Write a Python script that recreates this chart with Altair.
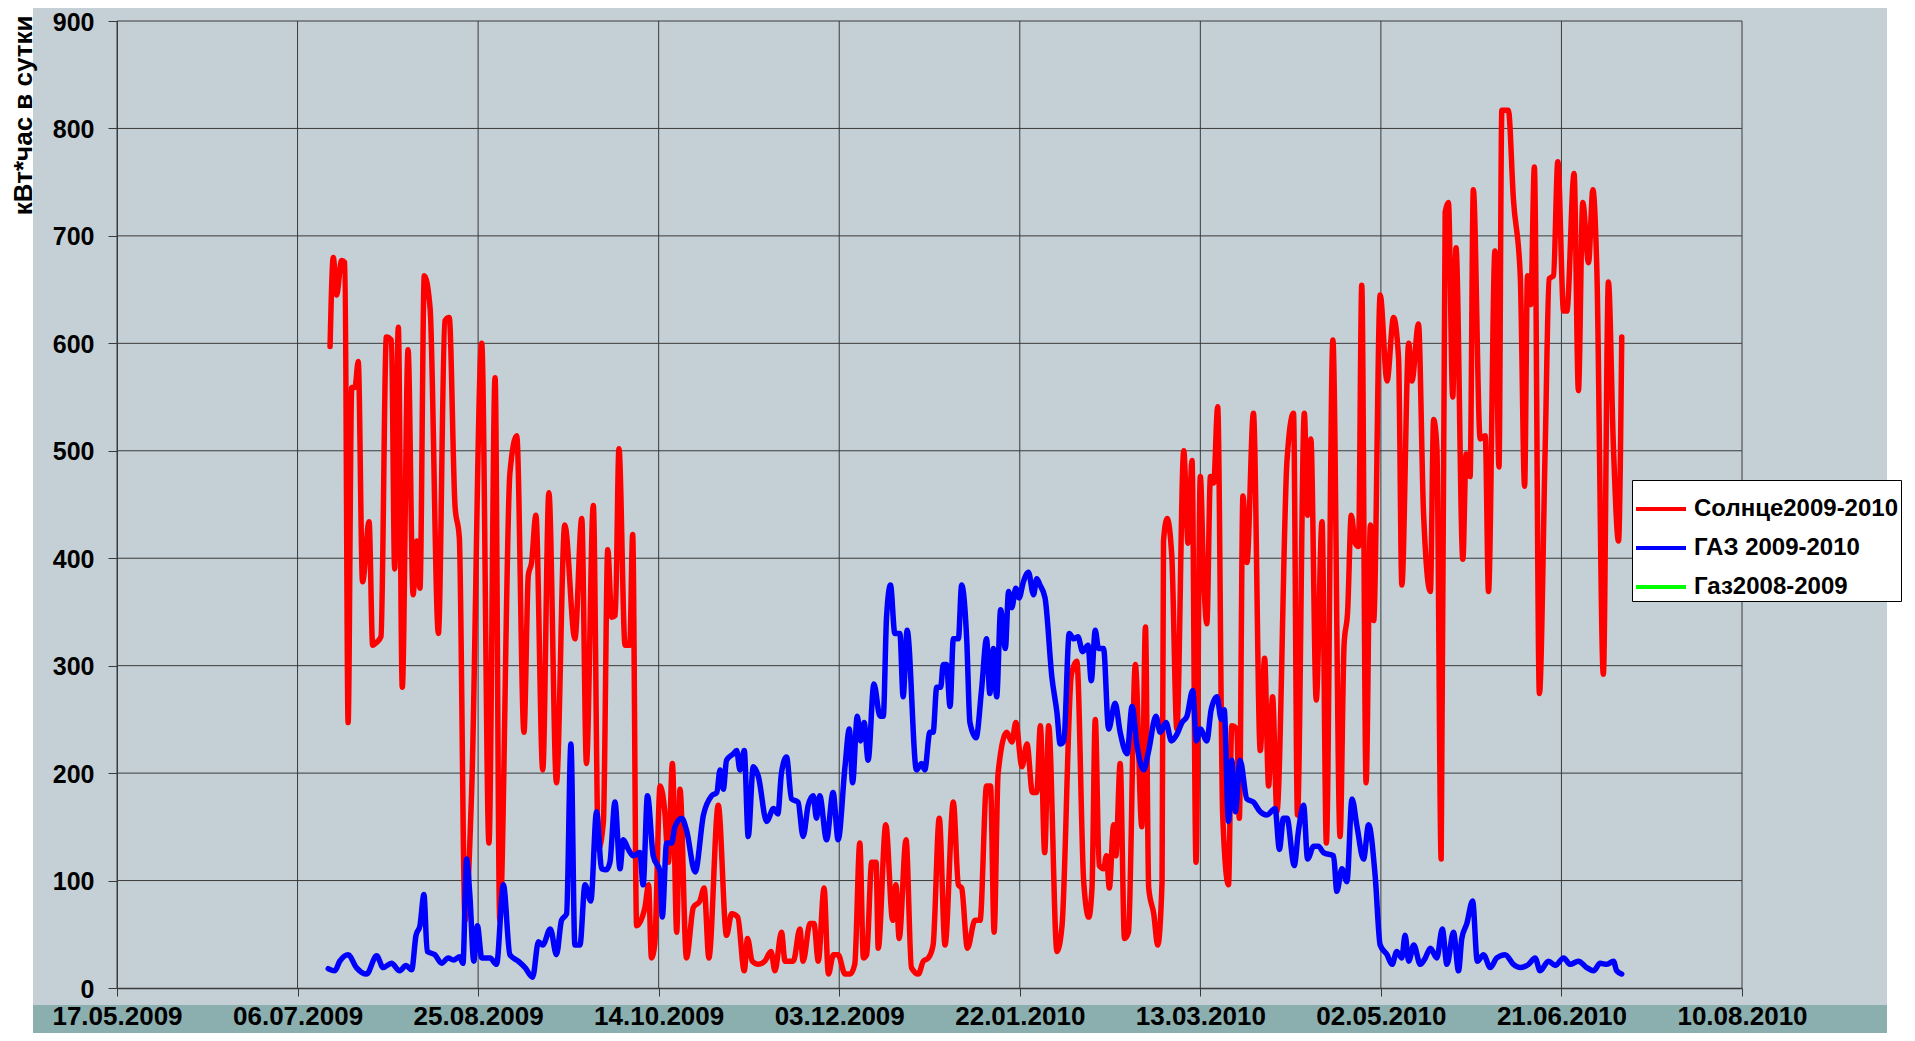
import altair as alt
import pandas as pd

# ---------------- data ----------------
START = "2009-05-17"
TICK_DATES = ["2009-05-17", "2009-07-06", "2009-08-25", "2009-10-14", "2009-12-03",
              "2010-01-22", "2010-03-13", "2010-05-02", "2010-06-21", "2010-08-10"]
Y_TICKS = [0, 100, 200, 300, 400, 500, 600, 700, 800, 900]
SERIES = ["Солнце2009-2010", "ГАЗ 2009-2010", "Газ2008-2009"]
COLORS = ["#ff0000", "#0000ff", "#00ff00"]
Y_TITLE = "кВт*час в сутки"

# days after START, kWh per day
solar_day = [59.0, 59.9, 60.8, 62.2, 63.1, 64.0, 65.0, 65.9, 66.8, 68.0, 69.8, 70.8, 72.0, 73.1, 74.6, 76.0,
             76.9, 77.9, 79.0, 80.6, 82.0, 83.0, 83.9, 85.1, 86.7, 89.0, 90.8, 92.0, 93.6, 94.8, 96.4, 98.2,
             101.0, 103.0, 104.7, 106.0, 108.8, 110.7, 112.7, 113.9, 114.8, 116.0, 117.9, 119.6, 121.7, 124.0,
             126.8, 128.7, 130.0, 131.9, 133.3, 134.7, 135.9, 137.0, 138.0, 139.0, 140.7, 142.0, 142.8, 143.9,
             146.2, 147.2, 148.0, 148.9, 150.4, 151.7, 152.7, 153.8, 155.0, 155.9, 157.7, 159.6, 161.4, 162.6,
             163.9, 166.5, 168.8, 170.2, 171.9, 173.7, 174.6, 175.9, 177.6, 179.4, 181.1, 182.2, 184.0, 185.0,
             187.3, 189.1, 190.0, 191.9, 193.0, 194.2, 195.8, 197.0, 198.4, 199.7, 201.6, 203.0, 204.3, 205.7,
             206.7, 207.6, 209.0, 210.2, 210.8, 212.9, 214.8, 215.7, 216.6, 218.5, 220.0, 221.9, 223.3, 224.7,
             226.0, 227.7, 229.3, 231.6, 233.0, 233.9, 235.5, 237.6, 239.0, 240.8, 241.9, 242.9, 244.0, 246.4,
             247.8, 248.9, 250.6, 252.0, 253.5, 254.7, 255.7, 256.9, 258.0, 260.3, 261.7, 264.3, 265.8, 267.7,
             269.1, 270.0, 270.9, 272.0, 273.2, 274.0, 274.8, 276.0, 276.6, 277.8, 279.0, 280.1, 282.0, 283.8,
             284.8, 285.7, 287.1, 288.2, 289.4, 289.8, 290.8, 292.1, 293.5, 295.4, 296.6, 297.7, 298.8, 300.0,
             300.9, 301.8, 302.8, 303.7, 304.8, 306.2, 307.8, 308.7, 310.1, 310.8, 311.8, 312.9, 314.7, 316.6,
             317.8, 318.9, 320.0, 321.2, 324.0, 325.8, 326.9, 328.8, 329.7, 330.6, 332.1, 333.7, 334.9, 336.7,
             338.7, 339.8, 340.8, 341.8, 342.9, 343.8, 344.7, 345.9, 347.1, 348.0, 349.8, 351.7, 353.5, 354.9,
             355.8, 357.7, 358.6, 360.4, 361.8, 363.7, 364.6, 365.5, 366.7, 367.8, 368.7, 369.9, 370.8, 372.7,
             373.6, 374.7, 375.6, 377.5, 378.9, 379.8, 381.6, 382.7, 383.5, 385.3, 386.7, 388.6, 389.8, 390.6,
             391.5, 392.5, 393.9, 395.5, 396.6, 397.8, 399.0, 400.6, 401.5, 403.5, 404.7, 405.9, 407.5, 408.7,
             409.8, 411.6, 413.0, 414.4, 415.8, 416.7]
solar_kwh = [597, 680, 645, 677, 675, 247, 559, 559, 583, 378, 434, 319, 322, 327, 606, 603,
             390, 615, 280, 594, 366, 416, 372, 663, 633, 330, 621, 624, 449, 419, 63, 182,
             600, 135, 568, 63, 479, 514, 238, 384, 396, 440, 203, 461, 191, 431,
             325, 437, 209, 449, 129, 155, 408, 345, 347, 502, 319, 319, 422, 58,
             75, 96, 28, 40, 188, 164, 117, 209, 52, 185, 28, 75, 81, 93,
             28, 170, 49, 69, 66, 16, 46, 25, 22, 25, 34, 16, 52, 25,
             25, 55, 25, 60, 60, 25, 93, 13, 31, 31, 13, 13, 22, 135,
             28, 31, 117, 117, 37, 152, 63, 96, 46, 138, 19, 13, 25, 28,
             40, 158, 40, 173, 96, 93, 37, 63, 63, 188, 188, 52, 200, 238,
             229, 247, 206, 227, 182, 182, 244, 126, 244, 34, 58, 292, 304, 99,
             66, 93, 250, 114, 111, 123, 93, 152, 123, 209, 46, 52, 301, 150,
             336, 93, 69, 40, 99, 416, 437, 402, 241, 500, 414, 491, 117, 476,
             384, 339, 476, 470, 541, 160, 96, 244, 241, 158, 458, 396, 535, 221,
             307, 188, 271, 164, 491, 535, 161, 535, 440, 511, 268, 434, 135, 603,
             141, 319, 351, 440, 414, 411, 654, 191, 431, 342, 645, 565, 624, 586,
             375, 600, 565, 618, 443, 369, 529, 503, 120, 722, 731, 550, 689, 399,
             497, 476, 743, 511, 514, 369, 686, 485, 817, 817, 734, 663, 467, 663,
             636, 764, 274, 503, 660, 663, 769, 630, 630, 758, 556, 731, 675, 743,
             669, 292, 657, 503, 416, 606]

gas_day = [58.5, 60.3, 61.7, 64.0, 66.3, 69.1, 71.9, 73.7, 76.0, 78.3, 80.0, 81.6, 82.8, 83.9, 85.0, 85.9,
           88.0, 89.9, 91.7, 93.2, 94.9, 95.8, 96.8, 97.7, 98.8, 99.8, 101.0, 103.3, 105.1, 107.0, 108.8,
           111.1, 113.0, 115.1, 116.7, 117.9, 120.0, 121.7, 123.1, 124.5, 125.7, 126.8, 128.2, 129.6, 131.2,
           132.8, 134.2, 135.5, 136.5, 137.9, 139.3, 140.2, 141.6, 143.0, 144.8, 145.7, 146.9, 148.5, 150.4,
           151.0, 152.2, 153.6, 154.5, 156.4, 157.7, 160.1, 162.4, 164.7, 166.1, 167.0, 167.9, 168.8, 170.7,
           171.6, 172.5, 173.7, 174.8, 176.2, 177.6, 179.9, 181.8, 183.0, 184.0, 185.4, 186.8, 188.6, 190.0,
           191.4, 192.8, 193.7, 194.6, 196.5, 198.3, 199.7, 201.6, 202.8, 203.7, 205.0, 205.9, 206.9, 208.0,
           209.6, 211.3, 212.2, 213.1, 214.2, 215.4, 216.8, 217.7, 218.8, 221.4, 222.8, 223.7, 225.1, 226.0,
           227.0, 228.1, 228.8, 229.7, 230.7, 231.6, 233.0, 233.9, 235.3, 236.2, 237.9, 239.4, 240.8, 241.7,
           242.7, 243.6, 244.7, 246.0, 246.9, 247.8, 248.9, 249.8, 251.0, 252.4, 253.8, 254.7, 255.6, 257.0,
           258.9, 260.3, 261.2, 262.2, 263.7, 264.9, 266.1, 267.4, 268.9, 269.8, 270.9, 271.8, 273.2, 274.6,
           276.4, 277.8, 279.7, 281.1, 282.4, 284.3, 285.7, 287.7, 288.9, 290.5, 292.0, 293.5, 294.9, 296.3,
           297.9, 298.9, 300.0, 301.8, 303.0, 304.6, 305.8, 306.6, 307.8, 308.7, 309.7, 311.0, 312.9, 314.7,
           316.6, 318.4, 320.7, 321.9, 323.0, 324.0, 326.0, 327.2, 328.6, 329.7, 331.4, 332.7, 334.1, 336.9,
           337.8, 339.2, 340.6, 342.0, 343.4, 345.2, 346.6, 348.4, 349.8, 351.7, 353.1, 354.4, 355.8, 356.7,
           357.7, 359.1, 360.9, 362.3, 363.7, 365.5, 367.0, 368.3, 370.1, 371.5, 372.4, 373.8, 375.4, 376.7,
           378.4, 380.3, 382.1, 384.4, 386.7, 388.6, 390.9, 392.7, 394.1, 396.4, 398.3, 400.6, 402.4, 404.7,
           407.0, 408.9, 410.7, 412.6, 414.4, 415.3, 416.7]
gas_kwh = [18, 16, 25, 31, 19, 13, 30, 19, 23, 16, 21, 17, 49, 58, 87, 34,
           31, 23, 28, 26, 29, 23, 120, 87, 25, 58, 28, 28, 22, 96, 31,
           25, 19, 10, 43, 40, 55, 31, 63, 69, 227, 40, 40, 96, 81,
           164, 111, 110, 117, 173, 111, 138, 129, 123, 126, 96, 179, 123, 108,
           66, 135, 135, 150, 158, 147, 108, 161, 179, 182, 203, 185, 212, 218,
           221, 203, 221, 141, 206, 197, 155, 167, 162, 200, 215, 176, 173, 141,
           170, 179, 158, 179, 138, 182, 138, 206, 241, 191, 253, 230, 247, 212,
           283, 253, 253, 345, 375, 330, 330, 271, 333, 203, 209, 203, 238, 238,
           280, 280, 301, 301, 262, 325, 325, 375, 325, 247, 233, 277, 325, 274,
           316, 271, 352, 316, 369, 354, 372, 363, 378, 387, 366, 381, 375, 363,
           289, 256, 227, 230, 330, 325, 327, 313, 319, 286, 333, 316, 316, 241,
           265, 238, 218, 262, 227, 203, 221, 253, 238, 247, 230, 236, 247, 253,
           277, 230, 241, 230, 259, 271, 250, 259, 155, 212, 164, 212, 176, 173,
           164, 161, 167, 129, 158, 158, 114, 147, 170, 120, 132, 132, 126, 123,
           90, 111, 99, 176, 150, 120, 152, 105, 40, 31, 22, 34, 28, 49,
           25, 40, 22, 28, 37, 28, 55, 22, 52, 16, 46, 60, 81, 25,
           31, 19, 28, 31, 22, 19, 22, 28, 16, 25, 21, 28, 22, 25,
           19, 16, 23, 22, 25, 16, 13]

# ---------------- tables ----------------
base = pd.Timestamp(START)


def iso(days):
    return [(base + pd.Timedelta(days=float(d))).strftime("%Y-%m-%dT%H:%M:%S") for d in days]


lines_df = pd.concat([
    pd.DataFrame({"date": iso(solar_day), "kwh": solar_kwh, "series": SERIES[0]}),
    pd.DataFrame({"date": iso(gas_day), "kwh": gas_kwh, "series": SERIES[1]}),
], ignore_index=True)
xgrid_df = pd.DataFrame({"date": [d + "T00:00:00" for d in TICK_DATES]})
ygrid_df = pd.DataFrame({"kwh": Y_TICKS[1:]})
panel_df = pd.DataFrame({"part": ["panel"]})


def dt(s):
    y, m, d = (int(p) for p in s.split("-"))
    return alt.DateTime(year=y, month=m, date=d)


X_DOMAIN = [dt(TICK_DATES[0]), dt(TICK_DATES[-1])]
X_VALUES = [dt(s) for s in TICK_DATES]

FONT = "Liberation Sans"
GRID = "#3a3a3a"
PANEL = "#c5d0d6"
BAND = "#8baeae"

W, H = 1625, 967

x_axis = alt.Axis(values=X_VALUES, format="%d.%m.%Y", title=None, grid=False,
                  labelFlush=False, labelOverlap=False, tickSize=8, labelPadding=7,
                  labelFontSize=26, labelFontWeight="bold", labelFont=FONT, labelColor="#000000",
                  domainColor=GRID, domainWidth=1.5, tickColor=GRID, zindex=1)
y_axis = alt.Axis(values=Y_TICKS, title=Y_TITLE, grid=False, tickSize=9, labelPadding=14,
                  labelOffset=1,
                  labelFontSize=25, labelFontWeight="bold", labelFont=FONT, labelColor="#000000",
                  domainColor=GRID, tickColor=GRID, titleFont=FONT, titleFontSize=26,
                  titleFontWeight="bold", titleColor="#000000", titleAngle=270, titleAlign="right",
                  titleBaseline="alphabetic", titleX=-86, titleY=-6, zindex=1)
x_scale = alt.Scale(domain=X_DOMAIN, nice=False)
y_scale = alt.Scale(domain=[0, 900], nice=False)

panel = alt.Chart(panel_df).mark_rect(color=PANEL).encode(
    x=alt.value(-84), x2=alt.value(1770), y=alt.value(-21), y2=alt.value(984))
band = alt.Chart(panel_df).mark_rect(color=BAND).encode(
    x=alt.value(-84), x2=alt.value(1770), y=alt.value(984), y2=alt.value(1030))

hgrid = alt.Chart(ygrid_df).mark_rule(color=GRID, strokeWidth=1).encode(
    y=alt.Y("kwh:Q", scale=y_scale, axis=y_axis))
vgrid = alt.Chart(xgrid_df).mark_rule(color=GRID, strokeWidth=1).encode(
    x=alt.X("date:T", scale=x_scale, axis=x_axis))

lines = alt.Chart(lines_df).mark_line(strokeWidth=5.5, strokeJoin="round", strokeCap="round",
                                      interpolate="monotone").encode(
    x=alt.X("date:T", scale=x_scale, axis=x_axis),
    y=alt.Y("kwh:Q", scale=y_scale, axis=y_axis),
    color=alt.Color("series:N", scale=alt.Scale(domain=SERIES, range=COLORS),
                    sort=SERIES,
                    legend=alt.Legend(title=None, orient="none", legendX=1515, legendY=459,
                                      fillColor="#ffffff", strokeColor="#000000", padding=2,
                                      symbolType="stroke", symbolSize=2500, symbolStrokeWidth=4,
                                      labelFontSize=24, labelFontWeight="bold", labelFont=FONT,
                                      labelColor="#000000", labelLimit=400, labelOffset=6,
                                      rowPadding=0, zindex=1)),
)

chart = alt.layer(panel, band, vgrid, hgrid, lines).properties(
    width=W, height=H,
    autosize=alt.AutoSizeParams(type="none"),
    padding={"left": 109, "top": 13, "right": 165, "bottom": 45},
    background="#ffffff",
).configure_view(stroke=None)

chart.save("out.html", embed_options={"renderer": "svg", "actions": False})
